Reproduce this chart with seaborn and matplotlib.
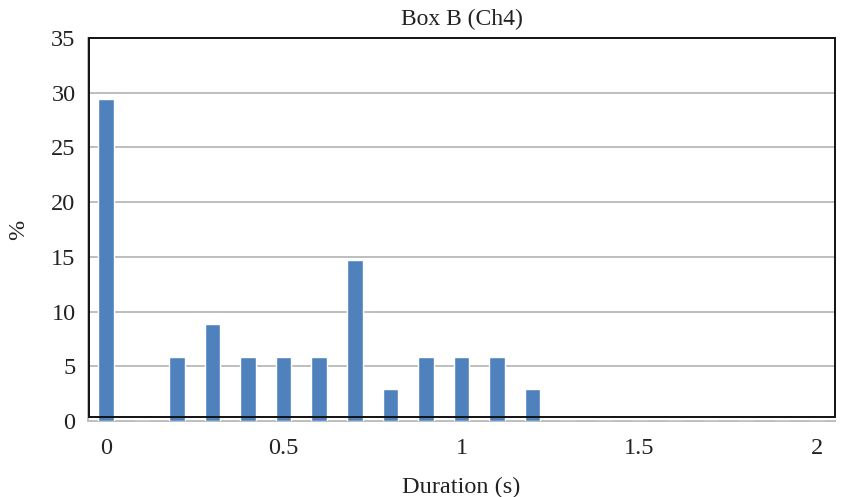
import matplotlib
matplotlib.use("Agg")
import matplotlib.pyplot as plt
from matplotlib.patches import Rectangle
from matplotlib.ticker import FixedLocator
import seaborn as sns
import pandas as pd

# Duration bins (s) and share of events per bin (%)
durations = ["0", "0.1", "0.2", "0.3", "0.4", "0.5", "0.6", "0.7", "0.8", "0.9", "1",
             "1.1", "1.2", "1.3", "1.4", "1.5", "1.6", "1.7", "1.8", "1.9", "2"]
percent = [29.41, 0, 5.88, 8.82, 5.88, 5.88, 5.88, 14.71, 2.94, 5.88, 5.88,
           5.88, 2.94, 0, 0, 0, 0, 0, 0, 0, 0]
tick_labels = ["0", "0.5", "1", "1.5", "2"]
y_ticks = [0, 5, 10, 15, 20, 25, 30, 35]

df = pd.DataFrame({"duration": durations, "percent": percent})

sns.set_style("white")
plt.rcParams["font.family"] = ["Liberation Serif", "DejaVu Serif"]

fig = plt.figure(figsize=(8.48, 4.97), dpi=100)
ax = fig.add_axes([0.1038, 0.153, 0.8809, 0.7706])

sns.barplot(data=df, x="duration", y="percent", order=durations,
            color="#4F81BD", saturation=1, width=0.44, ax=ax, zorder=3)

grid_color = "#BEBEBE"
ax.set_ylim(0, 35)
ax.set_xlim(-0.5, len(durations) - 0.5)
ax.set_yticks(y_ticks)
ax.set_yticklabels([str(v) for v in y_ticks])
for v in y_ticks[1:-1]:
    ax.axhline(v, color=grid_color, lw=1.4, zorder=1)

# category labels every 0.5 s, tick marks on bin boundaries
major_pos = [durations.index(t) for t in tick_labels]
ax.set_xticks(major_pos)
ax.set_xticklabels(tick_labels)
ax.xaxis.set_minor_locator(FixedLocator([i - 0.5 for i in range(len(durations) + 1)]))
ax.tick_params(axis="x", which="major", length=0, pad=12, labelsize=17.5, colors="#222222")
ax.tick_params(axis="x", which="minor", length=4, width=1.2, color=grid_color, direction="out")
ax.tick_params(axis="y", which="major", length=7, width=1.2, color=grid_color,
               direction="out", pad=2, labelsize=17.5, labelcolor="#222222")

for side in ["top", "right"]:
    ax.spines[side].set_visible(False)
for side in ["left", "bottom"]:
    ax.spines[side].set_color(grid_color)
    ax.spines[side].set_linewidth(1.4)

# plot-area border
ax.add_patch(Rectangle((0.0015, 0.0095), 0.9985, 0.9905, transform=ax.transAxes,
                       fill=False, edgecolor="#111111", lw=1.4, zorder=5, clip_on=False))

ax.set_title("Box B (Ch4)", fontsize=17, pad=9, color="#222222")
ax.set_xlabel("Duration (s)", fontsize=17.5, labelpad=13, color="#222222")
ax.set_ylabel("%", fontsize=17.5, labelpad=16, color="#222222")

fig.savefig("out.png", dpi=100, facecolor="white")
